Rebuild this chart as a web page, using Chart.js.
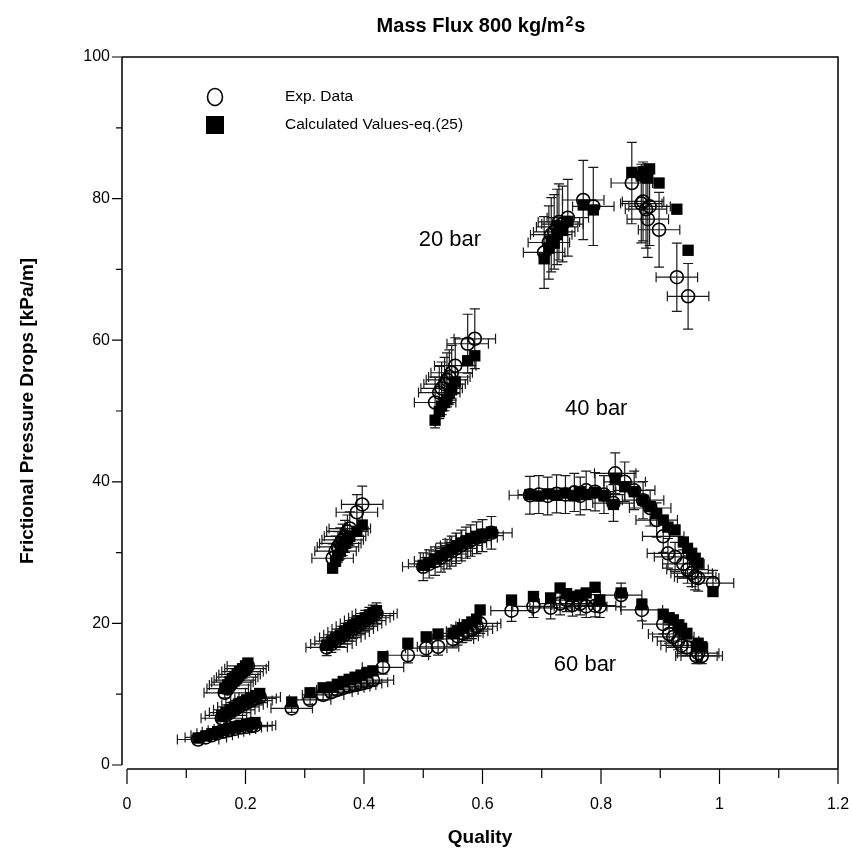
<!DOCTYPE html>
<html>
<head>
<meta charset="utf-8">
<script src="https://cdn.jsdelivr.net/npm/chart.js@4.4.0/dist/chart.umd.min.js"></script>
<style>
  html, body { margin: 0; padding: 0; background: #fff; }
  #wrap { width: 852px; height: 849px; }
</style>
</head>
<body>
<div id="wrap"><canvas id="chart" width="852" height="849"></canvas></div>
<script>
// ---- data ----
// 20 bar
const q20    = [0.165, 0.170, 0.174, 0.178, 0.182, 0.186, 0.190, 0.195, 0.200, 0.204,
                0.347, 0.352, 0.356, 0.360, 0.364, 0.368, 0.372, 0.376, 0.388, 0.397,
                0.520, 0.527, 0.531, 0.536, 0.540, 0.544, 0.548, 0.554, 0.575, 0.587,
                0.704, 0.712, 0.716, 0.721, 0.726, 0.729, 0.735, 0.744, 0.770, 0.787,
                0.852, 0.868, 0.871, 0.876, 0.879, 0.882, 0.898, 0.928, 0.947];
const exp20  = [10.2, 10.8, 11.3, 11.7, 12.0, 12.4, 12.8, 13.2, 13.6, 14.0,
                29.2, 30.2, 30.8, 31.3, 31.8, 32.3, 33.0, 33.4, 35.7, 36.8,
                51.2, 52.6, 53.2, 53.8, 54.4, 54.8, 55.4, 56.4, 59.5, 60.2,
                72.4, 73.8, 74.9, 75.3, 76.0, 76.7, 76.4, 77.3, 79.8, 78.9,
                82.2, 79.3, 79.6, 78.5, 77.1, 78.9, 75.6, 68.9, 66.2];
const calc20 = [10.8, 11.3, 11.8, 12.2, 12.5, 12.9, 13.2, 13.6, 14.0, 14.4,
                27.8, 28.8, 29.6, 30.2, 30.8, 31.3, 31.8, 32.3, 33.0, 33.9,
                48.7, 49.9, 50.7, 51.2, 51.6, 52.5, 53.0, 54.1, 57.1, 57.8,
                71.5, 73.0, 74.0, 73.7, 74.9, 76.1, 75.5, 76.8, 79.1, 78.4,
                83.7, 83.2, 83.8, 83.0, 82.9, 84.2, 82.2, 78.5, 72.7];
// 40 bar
const q40    = [0.160, 0.167, 0.174, 0.181, 0.188, 0.195, 0.202, 0.210, 0.217, 0.224,
                0.337, 0.345, 0.352, 0.360, 0.367, 0.374, 0.381, 0.388, 0.395, 0.402, 0.409, 0.415, 0.421,
                0.500, 0.510, 0.520, 0.530, 0.540, 0.548, 0.556, 0.564, 0.572, 0.580, 0.590, 0.600, 0.615,
                0.680, 0.695, 0.710, 0.725, 0.740, 0.755, 0.765, 0.775, 0.790, 0.805, 0.821, 0.824,
                0.840, 0.856, 0.871, 0.883, 0.894, 0.905, 0.913, 0.925, 0.939, 0.946, 0.953, 0.959, 0.964, 0.989];
const exp40  = [6.6, 7.0, 7.4, 7.8, 8.2, 8.5, 8.8, 9.1, 9.4, 9.6,
                16.6, 17.1, 17.5, 18.0, 18.4, 18.8, 19.2, 19.6, 20.0, 20.4, 20.8, 21.1, 21.4,
                28.0, 28.4, 28.8, 29.3, 29.8, 30.2, 30.6, 31.0, 31.4, 31.7, 32.1, 32.4, 32.8,
                38.1, 38.2, 38.0, 38.3, 38.2, 38.5, 38.0, 38.8, 38.6, 38.2, 37.0, 41.2,
                40.0, 38.8, 37.4, 36.3, 34.6, 32.3, 29.9, 29.4, 28.4, 27.6, 27.1, 26.6, 26.4, 25.7];
const calc40 = [7.0, 7.4, 7.8, 8.2, 8.6, 8.9, 9.2, 9.5, 9.8, 10.1,
                16.9, 17.4, 17.9, 18.3, 18.8, 19.2, 19.6, 20.0, 20.4, 20.8, 21.2, 21.5, 21.8,
                28.2, 28.6, 29.1, 29.6, 30.1, 30.5, 30.9, 31.3, 31.6, 32.0, 32.3, 32.6, 32.9,
                38.2, 38.0, 38.3, 38.1, 38.4, 38.0, 38.6, 38.2, 38.5, 38.0, 36.8, 40.5,
                39.3, 38.6, 37.4, 36.5, 35.5, 34.6, 33.6, 33.2, 31.5, 30.6, 29.9, 29.2, 28.5, 24.5];
// 60 bar
const q60    = [0.120, 0.133, 0.143, 0.153, 0.162, 0.172, 0.182, 0.192, 0.202, 0.210, 0.216,
                0.278, 0.309, 0.331, 0.345, 0.355, 0.365, 0.375, 0.385, 0.395, 0.405, 0.415, 0.432,
                0.474, 0.505, 0.525, 0.550, 0.558, 0.566, 0.574, 0.582, 0.590, 0.596,
                0.649, 0.686, 0.715, 0.731, 0.742, 0.752, 0.765, 0.775, 0.790, 0.798, 0.834, 0.869,
                0.905, 0.915, 0.922, 0.930, 0.936, 0.945, 0.961, 0.964, 0.970];
const exp60  = [3.6, 3.9, 4.2, 4.5, 4.7, 4.9, 5.1, 5.3, 5.4, 5.5, 5.6,
                8.0, 9.2, 9.9, 10.3, 10.6, 10.9, 11.1, 11.3, 11.5, 11.7, 12.0, 13.8,
                15.5, 16.5, 16.7, 17.8, 18.2, 18.6, 18.9, 19.2, 19.6, 20.0,
                21.8, 22.4, 22.2, 22.8, 23.3, 22.6, 22.8, 22.4, 22.5, 22.4, 24.0, 21.9,
                19.9, 18.5, 18.1, 17.5, 16.9, 16.6, 15.4, 15.8, 15.4];
const calc60 = [3.8, 4.1, 4.4, 4.7, 4.9, 5.2, 5.4, 5.6, 5.8, 5.9, 6.0,
                8.9, 10.2, 10.9, 11.0, 11.4, 11.8, 12.1, 12.4, 12.7, 13.0, 13.3, 15.3,
                17.2, 18.1, 18.5, 18.6, 19.0, 19.4, 19.8, 20.2, 20.6, 21.9,
                23.3, 23.8, 23.6, 25.0, 24.2, 23.8, 24.0, 24.3, 25.1, 23.3, 24.3, 22.7,
                21.3, 20.8, 20.5, 19.8, 19.3, 18.6, 16.7, 17.2, 16.7];

// measurement uncertainty shown as error bars on Exp. Data
const qErr = 0.035;       // absolute, quality
const dpErrFrac = 0.07;   // relative, pressure drop

const xTicks = [0, 0.1, 0.2, 0.3, 0.4, 0.5, 0.6, 0.7, 0.8, 0.9, 1.0, 1.1, 1.2];
const xTickLabels = ['0', '', '0.2', '', '0.4', '', '0.6', '', '0.8', '', '1', '', '1.2'];
const yTicks = [0, 10, 20, 30, 40, 50, 60, 70, 80, 90, 100];
const yTickLabels = ['0', '', '20', '', '40', '', '60', '', '80', '', '100'];

const pressureLabels = ['20 bar', '40 bar', '60 bar'];
const labelAt = [[0.545, 74.2], [0.792, 50.3], [0.773, 14.1]];

const FONT = '"Liberation Sans", Arial, Helvetica, sans-serif';

function pts(q, v) {
    return q.map((x, i) => ({ x: x, y: v[i] }));
}

const expStyle = {
    pointStyle: 'circle', pointRadius: 6.5, pointHoverRadius: 6.5,
    borderColor: '#000', backgroundColor: 'rgba(0,0,0,0)', pointBorderWidth: 1.6
};
const calcStyle = {
    pointStyle: 'rect', pointRadius: 8, pointHoverRadius: 8,
    borderColor: '#000', backgroundColor: '#000', pointBorderWidth: 0
};

const datasets = [
    Object.assign({ label: 'calc20', data: pts(q20, calc20), order: 2 }, calcStyle),
    Object.assign({ label: 'calc40', data: pts(q40, calc40), order: 2 }, calcStyle),
    Object.assign({ label: 'calc60', data: pts(q60, calc60), order: 2 }, calcStyle),
    Object.assign({ label: 'exp20', data: pts(q20, exp20), order: 1, isExp: true }, expStyle),
    Object.assign({ label: 'exp40', data: pts(q40, exp40), order: 1, isExp: true }, expStyle),
    Object.assign({ label: 'exp60', data: pts(q60, exp60), order: 1, isExp: true }, expStyle)
];

// error bars under the markers
const errorBars = {
    id: 'errorBars',
    beforeDatasetsDraw(chart) {
        const ctx = chart.ctx;
        const xs = chart.scales.x, ys = chart.scales.y;
        const cap = 5;
        ctx.save();
        ctx.strokeStyle = '#1a1a1a';
        ctx.lineWidth = 1.2;
        chart.data.datasets.forEach(ds => {
            if (!ds.isExp) return;
            ds.data.forEach(p => {
                const cx = xs.getPixelForValue(p.x), cy = ys.getPixelForValue(p.y);
                const x0 = xs.getPixelForValue(p.x - qErr), x1 = xs.getPixelForValue(p.x + qErr);
                const y0 = ys.getPixelForValue(p.y - p.y * dpErrFrac), y1 = ys.getPixelForValue(p.y + p.y * dpErrFrac);
                ctx.beginPath();
                ctx.moveTo(x0, cy); ctx.lineTo(x1, cy);
                ctx.moveTo(x0, cy - cap); ctx.lineTo(x0, cy + cap);
                ctx.moveTo(x1, cy - cap); ctx.lineTo(x1, cy + cap);
                ctx.moveTo(cx, y0); ctx.lineTo(cx, y1);
                ctx.moveTo(cx - cap, y0); ctx.lineTo(cx + cap, y0);
                ctx.moveTo(cx - cap, y1); ctx.lineTo(cx + cap, y1);
                ctx.stroke();
            });
        });
        ctx.restore();
    }
};

// frame, tick marks, titles, legend and labels
const decorations = {
    id: 'decorations',
    afterDraw(chart) {
        const ctx = chart.ctx;
        const a = chart.chartArea;
        const xs = chart.scales.x, ys = chart.scales.y;
        const y0 = ys.getPixelForValue(0);
        const x0 = xs.getPixelForValue(0);
        ctx.save();
        ctx.strokeStyle = '#000';
        ctx.lineWidth = 1.5;
        ctx.beginPath();
        // left axis
        ctx.moveTo(a.left, a.top); ctx.lineTo(a.left, y0);
        // top + right frame
        ctx.moveTo(a.left, a.top); ctx.lineTo(a.right, a.top); ctx.lineTo(a.right, a.bottom);
        // bottom axis
        ctx.moveTo(x0, a.bottom); ctx.lineTo(a.right, a.bottom);
        ctx.stroke();

        ctx.lineWidth = 1.2;
        ctx.beginPath();
        xTicks.forEach((v, i) => {
            const px = xs.getPixelForValue(v);
            const len = xTickLabels[i] ? 15 : 9;
            ctx.moveTo(px, a.bottom); ctx.lineTo(px, a.bottom + len);
        });
        yTicks.forEach((v, i) => {
            const py = ys.getPixelForValue(v);
            const len = yTickLabels[i] ? 10 : 6;
            ctx.moveTo(a.left, py); ctx.lineTo(a.left - len, py);
        });
        ctx.stroke();

        ctx.fillStyle = '#000';
        // chart title with superscript
        ctx.textBaseline = 'alphabetic';
        const t1 = 'Mass Flux 800 kg/m', t2 = '2', t3 = 's';
        ctx.font = 'bold 20px ' + FONT;
        const w1 = ctx.measureText(t1).width, w3 = ctx.measureText(t3).width;
        ctx.font = 'bold 14px ' + FONT;
        const w2 = ctx.measureText(t2).width;
        const tx = (a.left + a.right) / 2 - (w1 + w2 + w3) / 2;
        const ty = 32;
        ctx.textAlign = 'left';
        ctx.font = 'bold 20px ' + FONT;
        ctx.fillText(t1, tx, ty);
        ctx.font = 'bold 14px ' + FONT;
        ctx.fillText(t2, tx + w1 + 1, ty - 6);
        ctx.font = 'bold 20px ' + FONT;
        ctx.fillText(t3, tx + w1 + w2 + 2, ty);

        // axis titles
        ctx.textAlign = 'center';
        ctx.textBaseline = 'middle';
        ctx.font = 'bold 19px ' + FONT;
        ctx.fillText('Quality', (a.left + a.right) / 2, 838);
        ctx.save();
        ctx.translate(28, (a.top + y0) / 2);
        ctx.rotate(-Math.PI / 2);
        ctx.fillText('Frictional Pressure Drops [kPa/m]', 0, 0);
        ctx.restore();

        // pressure labels
        ctx.font = '22px ' + FONT;
        pressureLabels.forEach((s, i) => {
            ctx.fillText(s, xs.getPixelForValue(labelAt[i][0]), ys.getPixelForValue(labelAt[i][1]));
        });

        // legend
        const lx = a.left + 93, ly = a.top + 40;
        ctx.lineWidth = 1.6;
        ctx.beginPath();
        ctx.ellipse(lx, ly, 7.5, 8.5, 0, 0, Math.PI * 2);
        ctx.stroke();
        ctx.fillRect(lx - 9, ly + 19, 18, 18);
        ctx.textAlign = 'left';
        ctx.font = '15.5px ' + FONT;
        ctx.fillText('Exp. Data', a.left + 163, ly);
        ctx.fillText('Calculated Values-eq.(25)', a.left + 163, ly + 28);
        ctx.restore();
    }
};

new Chart(document.getElementById('chart'), {
    type: 'scatter',
    data: { datasets: datasets },
    plugins: [errorBars, decorations],
    options: {
        responsive: false,
        animation: false,
        layout: { padding: { top: 57, right: 14, left: 0, bottom: 0 } },
        plugins: {
            legend: { display: false },
            title: { display: false },
            tooltip: { enabled: false }
        },
        scales: {
            x: {
                type: 'linear',
                min: -6 / 711,
                max: 1.2,
                grid: { display: false, drawTicks: false },
                border: { display: false },
                afterFit: s => { s.height = 80; s.paddingLeft = 0; s.paddingRight = 0; },
                afterBuildTicks: s => { s.ticks = xTicks.map(v => ({ value: v })); },
                ticks: {
                    autoSkip: false, maxRotation: 0, padding: 26, color: '#000',
                    font: { family: FONT, size: 16 },
                    callback: (v, i) => xTickLabels[i]
                }
            },
            y: {
                type: 'linear',
                min: -400 / 708,
                max: 100,
                grid: { display: false, drawTicks: false },
                border: { display: false },
                afterFit: s => { s.width = 122; s.paddingTop = 0; s.paddingBottom = 0; },
                afterBuildTicks: s => { s.ticks = yTicks.map(v => ({ value: v })); },
                ticks: {
                    autoSkip: false, padding: 12, color: '#000',
                    font: { family: FONT, size: 16 },
                    callback: (v, i) => yTickLabels[i]
                }
            }
        }
    }
});
</script>
</body>
</html>
